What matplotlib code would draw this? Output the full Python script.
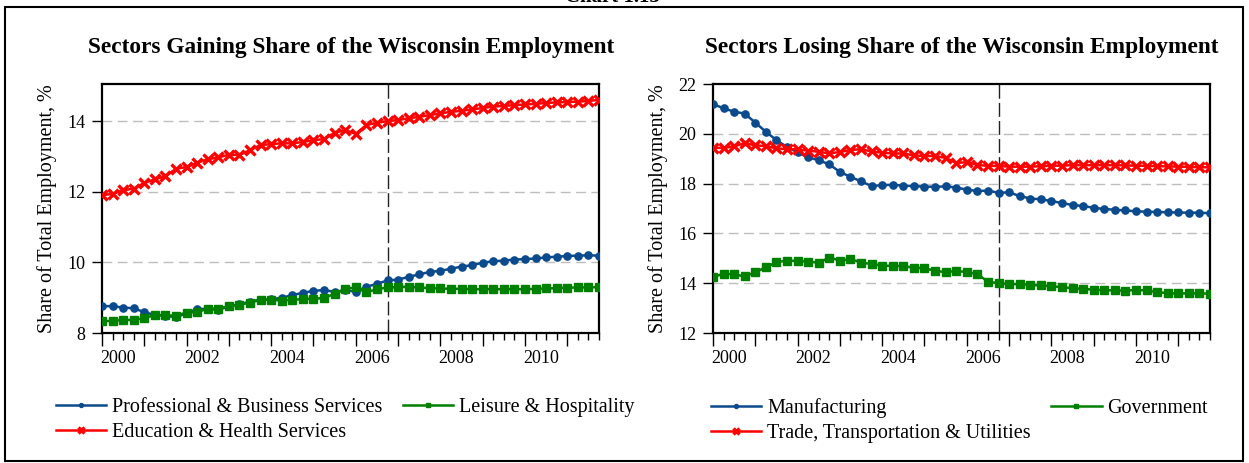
import matplotlib
matplotlib.use("Agg")
import matplotlib.pyplot as plt
import matplotlib.transforms as mtrans
from matplotlib.patches import Rectangle
import numpy as np

plt.rcParams["font.family"] = ["Liberation Serif", "DejaVu Serif"]

# ---------------- data (quarterly, 2000Q1 .. 2011Q4) ----------------
start_year = 2000
n_quarters = 48
year_ticks = list(range(2000, 2012))
year_labels = ["2000", "", "2002", "", "2004", "", "2006", "", "2008", "", "2010", ""]
marker_quarter = 27  # 2006Q4 vertical reference line

prof_business = [8.76, 8.76, 8.72, 8.70, 8.59, 8.51, 8.49, 8.44, 8.57, 8.67,
                 8.69, 8.65, 8.76, 8.81, 8.89, 8.94, 8.95, 9.00, 9.07, 9.14,
                 9.19, 9.22, 9.16, 9.21, 9.17, 9.31, 9.39, 9.49, 9.51, 9.59,
                 9.66, 9.73, 9.76, 9.82, 9.88, 9.92, 9.99, 10.03, 10.05, 10.08,
                 10.09, 10.11, 10.14, 10.16, 10.18, 10.19, 10.20, 10.19]
leisure = [8.34, 8.34, 8.37, 8.37, 8.42, 8.51, 8.50, 8.49, 8.58, 8.59,
           8.69, 8.69, 8.76, 8.80, 8.86, 8.94, 8.94, 8.92, 8.94, 8.96,
           8.97, 8.99, 9.11, 9.25, 9.29, 9.15, 9.24, 9.29, 9.30, 9.31,
           9.29, 9.27, 9.26, 9.25, 9.25, 9.24, 9.24, 9.24, 9.24, 9.24,
           9.24, 9.25, 9.26, 9.27, 9.28, 9.29, 9.29, 9.30]
education = [11.90, 11.94, 12.04, 12.09, 12.25, 12.35, 12.44, 12.65, 12.70, 12.82,
             12.92, 12.97, 13.05, 13.04, 13.18, 13.32, 13.35, 13.37, 13.37, 13.41,
             13.46, 13.49, 13.67, 13.74, 13.64, 13.89, 13.95, 14.00, 14.03, 14.08,
             14.12, 14.17, 14.22, 14.26, 14.29, 14.33, 14.37, 14.41, 14.43, 14.45,
             14.47, 14.49, 14.51, 14.53, 14.54, 14.55, 14.57, 14.60]

manufacturing = [21.20, 21.02, 20.89, 20.81, 20.45, 20.08, 19.75, 19.46, 19.26, 19.05,
                 18.94, 18.77, 18.47, 18.27, 18.09, 17.90, 17.94, 17.95, 17.92, 17.90,
                 17.88, 17.87, 17.89, 17.84, 17.76, 17.70, 17.72, 17.63, 17.65, 17.50,
                 17.40, 17.37, 17.30, 17.22, 17.14, 17.10, 17.03, 16.98, 16.95, 16.92,
                 16.89, 16.87, 16.86, 16.85, 16.84, 16.83, 16.83, 16.81]
government = [14.26, 14.37, 14.36, 14.27, 14.44, 14.64, 14.84, 14.91, 14.89, 14.87,
              14.82, 15.03, 14.91, 14.97, 14.83, 14.77, 14.71, 14.69, 14.69, 14.62,
              14.60, 14.50, 14.44, 14.50, 14.44, 14.37, 14.06, 14.00, 13.97, 13.96,
              13.93, 13.91, 13.88, 13.84, 13.80, 13.77, 13.74, 13.72, 13.71, 13.70,
              13.73, 13.71, 13.64, 13.60, 13.59, 13.59, 13.59, 13.58]
trade = [19.44, 19.43, 19.50, 19.62, 19.54, 19.50, 19.42, 19.38, 19.38, 19.32,
         19.28, 19.21, 19.27, 19.35, 19.38, 19.29, 19.24, 19.21, 19.21, 19.13,
         19.11, 19.11, 19.03, 18.83, 18.86, 18.75, 18.71, 18.71, 18.68, 18.68,
         18.68, 18.70, 18.72, 18.72, 18.74, 18.74, 18.74, 18.74, 18.74, 18.73,
         18.72, 18.71, 18.70, 18.69, 18.68, 18.67, 18.66, 18.65]

BLUE = "#0b4a8c"
GREEN = "#008000"
RED = "#ff0000"

x = start_year + np.arange(n_quarters) / 4.0

fig = plt.figure(figsize=(12.49, 4.63), dpi=100)
W, H = 1249, 463

def axes_px(l, t, r, b):
    return fig.add_axes([l / W, 1 - b / H, (r - l) / W, (b - t) / H])

ax1 = axes_px(102, 84, 599, 333)
ax2 = axes_px(713, 84, 1210, 333)

def style(ax, ylim, yticks, grid_vals, title, title_x):
    ax.set_xlim(x[0], x[-1])
    ax.set_ylim(*ylim)
    ax.set_yticks(yticks)
    ax.set_yticklabels([str(v) for v in yticks], fontsize=13)
    ax.set_xticks(year_ticks)
    ax.set_xticklabels(year_labels, fontsize=13)
    ax.set_xticks(x, minor=True)
    ax.tick_params(axis="x", which="major", direction="out", length=9, width=1, pad=3)
    ax.tick_params(axis="x", which="minor", direction="out", length=5, width=1)
    ax.tick_params(axis="y", which="major", direction="out", length=7, width=1, pad=5)
    offset = mtrans.ScaledTranslation(16 / 100, 0, fig.dpi_scale_trans)
    for lab in ax.get_xticklabels():
        lab.set_transform(lab.get_transform() + offset)
    for g in grid_vals:
        ax.axhline(g, color="#bdbdbd", lw=1.0, dashes=(7, 4), zorder=1)
    ax.axvline(x[marker_quarter], color="#222222", lw=1.0, dashes=(10, 3), zorder=1)
    for s in ax.spines.values():
        s.set_linewidth(1.6)
        s.set_color("black")
    ax.set_ylabel("Share of Total Employment, %", fontsize=14.5, labelpad=7)
    fig.text(title_x / W, 1 - 47 / H, title, fontsize=16.8, fontweight="bold",
             ha="center", va="center")

def plot_series(ax, y, color, kind, label):
    if kind == "o":
        return ax.plot(x, y, color=color, lw=1.8, marker="o", ms=5.2, label=label, zorder=3)[0]
    if kind == "s":
        return ax.plot(x, y, color=color, lw=1.8, marker="s", ms=6.3, label=label, zorder=3)[0]
    return ax.plot(x, y, color=color, lw=1.8, marker="x", ms=7.5, mew=2.4, label=label, zorder=3)[0]

h_pb = plot_series(ax1, prof_business, BLUE, "o", "Professional & Business Services")
h_le = plot_series(ax1, leisure, GREEN, "s", "Leisure & Hospitality")
h_ed = plot_series(ax1, education, RED, "x", "Education & Health Services")
style(ax1, (8, 15.05), [8, 10, 12, 14], [10, 12, 14],
      "Sectors Gaining Share of the Wisconsin Employment", 351)

h_mf = plot_series(ax2, manufacturing, BLUE, "o", "Manufacturing")
h_gv = plot_series(ax2, government, GREEN, "s", "Government")
h_tr = plot_series(ax2, trade, RED, "x", "Trade, Transportation & Utilities")
style(ax2, (12, 22), [12, 14, 16, 18, 20, 22], [14, 16, 18, 20],
      "Sectors Losing Share of the Wisconsin Employment", 962)

leg_kw = dict(ncol=2, frameon=False, fontsize=14.5, handlelength=2.5, handletextpad=0.3,
              labelspacing=0.28, borderaxespad=0, markerscale=0.55, columnspacing=1.0)
ax1.legend([h_pb, h_ed, h_le], [h_pb.get_label(), h_ed.get_label(), h_le.get_label()],
           loc="upper left", bbox_to_anchor=(48 / W, 1 - 390 / H),
           bbox_transform=fig.transFigure, **leg_kw)
ax2.legend([h_mf, h_tr, h_gv], [h_mf.get_label(), h_tr.get_label(), h_gv.get_label()],
           loc="upper left", bbox_to_anchor=(703 / W, 1 - 390 / H),
           bbox_transform=fig.transFigure, **leg_kw)

# outer frame and (partly cut) chart caption, as in the source page
fig.patches.append(Rectangle((5 / W, 2 / H), 1238 / W, 454 / H,
                             transform=fig.transFigure, fill=False, lw=1.5,
                             edgecolor="black"))
fig.text(612 / W, 1 - 2 / H, "Chart 1.13", fontsize=15, fontweight="bold",
         ha="center", va="baseline")

fig.savefig("out.png", dpi=100)
